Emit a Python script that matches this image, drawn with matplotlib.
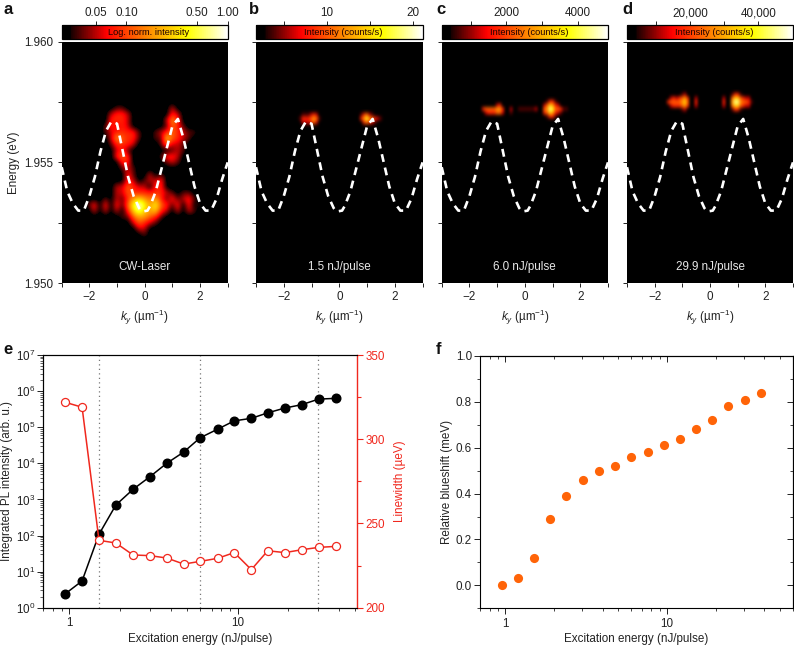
import numpy as np
import matplotlib
matplotlib.use("Agg")
import matplotlib.pyplot as plt
from matplotlib.colors import LinearSegmentedColormap, LogNorm, Normalize
from matplotlib.cm import ScalarMappable
from matplotlib.ticker import NullFormatter, LogLocator

plt.rcParams.update({
    "font.family": ["Liberation Sans", "DejaVu Sans"],
    "font.size": 8.4,
    "mathtext.fontset": "custom",
    "mathtext.rm": "Liberation Sans",
    "mathtext.it": "Liberation Sans:italic",
    "axes.linewidth": 0.8,
    "text.color": "#222222",
    "axes.labelcolor": "#222222",
    "xtick.color": "#222222",
    "ytick.color": "#222222",
})

W, H = 794, 646

# ---- dispersion curve (dashed) ----
disp_k = [-3.0, -2.8, -2.6, -2.4, -2.2, -2.0, -1.8, -1.6, -1.4, -1.2, -1.0, -0.8, -0.6, -0.4, -0.2, -0.1,
          0.1, 0.2, 0.4, 0.6, 0.8, 1.0, 1.2, 1.4, 1.6, 1.8, 2.0, 2.2, 2.4, 2.6, 2.8, 3.0]
disp_e = [1.9548, 1.9538, 1.9533, 1.9530, 1.9530, 1.9536, 1.9544, 1.95545, 1.9563, 1.9567, 1.9566, 1.9555,
          1.9544, 1.9536, 1.9531, 1.95296, 1.9530, 1.9532, 1.9538, 1.9547, 1.9556, 1.9565, 1.9568, 1.9560,
          1.9550, 1.9540, 1.9533, 1.9530, 1.9530, 1.9535, 1.9543, 1.9550]

# ---- PL maps: colour levels (0-9), {energy: {k: level}} ----
map_a = {
    1.95725: {-1.0: 1, -0.8: 1, 1.0: 2},
    1.95700: {-1.2: 2, -1.0: 3, -0.8: 3, -0.6: 2, 1.0: 3, 1.2: 2},
    1.95675: {-1.2: 3, -1.0: 3, -0.8: 3, -0.6: 2, 0.8: 2, 1.0: 5, 1.2: 3},
    1.95650: {-1.4: 1, -1.2: 3, -1.0: 2, -0.8: 3, -0.6: 2, 0.8: 1, 1.0: 4, 1.2: 3, 1.4: 1},
    1.95625: {-1.4: 1, -1.2: 2, -1.0: 3, -0.8: 3, -0.6: 3, -0.4: 3, -0.2: 1, 0.4: 1, 0.6: 2, 0.8: 3, 1.0: 4, 1.2: 3,
              1.4: 2, 1.6: 1, 1.8: 1},
    1.95600: {-1.2: 2, -1.0: 5, -0.8: 4, -0.6: 3, -0.4: 3, -0.2: 1, 0.4: 1, 0.6: 1, 0.8: 6, 1.0: 4, 1.2: 3, 1.4: 2, 1.6: 1},
    1.95575: {-1.2: 1, -1.0: 3, -0.8: 3, -0.6: 3, -0.4: 2, 0.6: 1, 0.8: 4, 1.0: 2, 1.2: 2, 1.4: 1},
    1.95550: {-1.0: 2, -0.8: 3, -0.6: 1, 1.0: 1, 1.2: 2, 1.4: 1},
    1.95525: {-1.0: 3, -0.8: 4, -0.6: 3, 0.6: 1, 0.8: 3, 1.0: 3, 1.2: 2},
    1.95500: {-0.8: 3, -0.6: 3, 0.8: 1, 1.0: 2, 1.2: 1},
    1.95475: {-0.8: 1, -0.6: 2, -0.4: 1},
    1.95450: {-0.6: 3, -0.4: 1, 0.2: 2, 0.6: 1},
    1.95425: {-0.6: 3, -0.4: 2, 0.0: 1, 0.2: 2, 0.4: 2, 0.6: 3},
    1.95400: {-1.0: 2, -0.8: 2, -0.6: 4, -0.4: 3, -0.2: 2, 0.0: 2, 0.4: 3, 0.6: 3},
    1.95375: {-1.0: 2, -0.8: 2, -0.6: 4, -0.4: 3, -0.2: 3, 0.0: 3, 0.2: 3, 0.4: 3, 0.6: 3, 0.8: 2, 1.0: 1, 1.4: 1, 1.6: 1},
    1.95350: {-1.4: 1, -1.0: 2, -0.8: 1, -0.6: 3, -0.4: 5, -0.2: 6, 0.0: 5, 0.2: 4, 0.4: 5, 0.6: 3, 0.8: 1,
              1.0: 3, 1.2: 1, 1.4: 2, 1.6: 3, 1.8: 1},
    1.95325: {-2.0: 1, -1.8: 3, -1.4: 3, -1.0: 3, -0.8: 1, -0.6: 4, -0.4: 7, -0.2: 9, 0.0: 7, 0.2: 5, 0.4: 7,
              0.6: 4, 0.8: 3, 1.0: 1, 1.2: 3, 1.6: 3, 2.0: 1},
    1.95300: {-1.8: 2, -1.4: 2, -1.0: 2, -0.6: 3, -0.4: 6, -0.2: 8, 0.0: 6, 0.2: 5, 0.4: 6, 0.6: 3,
              0.8: 2, 1.2: 2, 1.6: 2, 1.8: 1},
    1.95275: {-0.8: 1, -0.6: 1, -0.4: 4, -0.2: 5, 0.0: 5, 0.2: 4, 0.4: 3, 0.6: 1},
    1.95250: {-0.4: 2, -0.2: 4, 0.0: 3, 0.2: 2, 0.4: 1},
    1.95225: {-0.2: 2, 0.0: 2},
    1.95200: {0.0: 1},
}
map_b = {
    1.95695: {-1.3: 1, -1.2: 1, -1.1: 1, -1.0: 2, -0.9: 3, -0.8: 2, 0.8: 1, 0.9: 3, 1.0: 4, 1.1: 2, 1.2: 1},
    1.95680: {-1.4: 1, -1.3: 3, -1.2: 3, -1.1: 3, -1.0: 4, -0.9: 5, -0.8: 4, -0.7: 1,
              0.8: 3, 0.9: 5, 1.0: 7, 1.1: 5, 1.2: 4, 1.3: 3, 1.4: 2, 1.5: 1},
    1.95665: {-1.3: 2, -1.2: 2, -1.1: 2, -1.0: 3, -0.9: 4, -0.8: 2, 0.9: 3, 1.0: 4, 1.1: 3, 1.2: 2, 1.3: 1},
}
map_c = {
    1.95750: {0.8: 1, 0.9: 3, 1.0: 3, 1.1: 1},
    1.95735: {-1.0: 2, -0.9: 3, 0.7: 2, 0.8: 4, 0.9: 6, 1.0: 5, 1.1: 3, 1.2: 2},
    1.95720: {-1.5: 3, -1.4: 4, -1.3: 4, -1.2: 4, -1.1: 4, -1.0: 5, -0.9: 5, -0.8: 3, -0.5: 2, -0.2: 1, -0.1: 1, 0.0: 1,
              0.1: 1, 0.2: 1, 0.3: 1, 0.4: 2, 0.7: 4, 0.8: 5, 0.9: 8, 1.0: 7, 1.1: 4, 1.2: 4, 1.3: 3, 1.4: 1, 1.5: 1},
    1.95705: {-1.4: 2, -1.3: 3, -1.2: 3, -1.1: 3, -1.0: 4, -0.9: 4, -0.8: 2, -0.5: 1, 0.7: 3, 0.8: 4, 0.9: 6, 1.0: 5,
              1.1: 3, 1.2: 2, 1.3: 1},
    1.95690: {0.8: 1, 0.9: 3, 1.0: 3, 1.1: 1},
}
map_d = {
    1.95780: {-0.9: 2, -1.0: 1, 0.8: 1, 0.9: 3, 1.0: 3, 1.1: 1},
    1.95765: {-1.4: 2, -1.3: 3, -1.2: 2, -1.1: 3, -1.0: 4, -0.9: 5, -0.8: 3, -0.5: 2, 0.5: 2, 0.8: 4, 0.9: 6, 1.0: 6,
              1.1: 4, 1.2: 3, 1.3: 2, 1.4: 2},
    1.95750: {-1.5: 3, -1.4: 4, -1.3: 4, -1.2: 4, -1.1: 4, -1.0: 5, -0.9: 6, -0.8: 4, -0.5: 3, 0.5: 3, 0.8: 5, 0.9: 8,
              1.0: 8, 1.1: 5, 1.2: 4, 1.3: 4, 1.4: 3, 1.5: 1},
    1.95735: {-1.4: 2, -1.3: 3, -1.2: 3, -1.1: 3, -1.0: 4, -0.9: 5, -0.8: 3, -0.5: 2, 0.5: 2, 0.8: 4, 0.9: 6, 1.0: 6,
              1.1: 4, 1.2: 3, 1.3: 2, 1.4: 2},
    1.95720: {-0.9: 2, -1.0: 1, 0.8: 1, 0.9: 3, 1.0: 3, 1.1: 1},
}
panel_letters = ["a", "b", "c", "d"]
letter_x = [3, 249, 436, 622]
panel_notes = ["CW-Laser", "1.5 nJ/pulse", "6.0 nJ/pulse", "29.9 nJ/pulse"]
bar_labels = ["Log. norm. intensity", "Intensity (counts/s)", "Intensity (counts/s)", "Intensity (counts/s)"]
bar_limits = [(0.023, 1.0), (1.78, 21.1), (194, 4833), (1579, 50100)]
bar_ticks = [[0.05, 0.10, 0.50, 1.00], [5, 10, 15, 20], [1000, 2000, 3000, 4000], [10000, 20000, 30000, 40000]]
bar_ticklabels = [["0.05", "0.10", "0.50", "1.00"], ["", "10", "", "20"], ["", "2000", "", "4000"],
                  ["", "20,000", "", "40,000"]]

# ---- power series ----
energy = [0.947, 1.19, 1.50, 1.89, 2.39, 3.01, 3.79, 4.78, 5.99, 7.6, 9.55, 12.06, 15.1, 19.1, 24.0, 30.3, 38.4]
pl_intensity = [2.44, 5.5, 108, 700, 1900, 4250, 1.0e4, 2.05e4, 5.1e4, 8.8e4, 1.5e5, 1.76e5, 2.5e5, 3.4e5, 4.2e5, 6.0e5, 6.3e5]
linewidth = [321.9, 319, 240, 238.4, 231.3, 230.9, 229.5, 225.9, 227.5, 229.3, 232.7, 222.6, 233.8, 232.7, 234.4, 235.8, 236.4]
blueshift = [0.0, 0.03, 0.12, 0.29, 0.39, 0.46, 0.50, 0.52, 0.56, 0.58, 0.61, 0.64, 0.68, 0.72, 0.78, 0.81, 0.84]
marker_energies = [1.5, 6.0, 30.0]

cmap = LinearSegmentedColormap.from_list("pl", [
    (0.0, "#000000"), (0.05, "#000000"), (0.06, "#1c0000"), (0.27, "#ff0000"),
    (0.50, "#ff8000"), (0.76, "#ffff00"), (1.0, "#ffffff")])

fig = plt.figure(figsize=(W / 100, H / 100), dpi=100)


def axes_px(x0, y0, x1, y1):
    return fig.add_axes([x0 / W, 1 - y1 / H, (x1 - x0) / W, (y1 - y0) / H])


def to_grid(levels, dk, de):
    ks = np.round(np.arange(-3.0, 3.0 + dk / 2, dk), 3)
    es = sorted(levels)
    es = [es[0] - de] + es + [es[-1] + de]
    grid = np.zeros((len(es), len(ks)))
    for e, row in levels.items():
        i = es.index(e)
        for k, v in row.items():
            grid[i, int(round((k + 3.0) / dk))] = v
    return grid[:, 1:-1], es


panels_x = [(61.7, 227.7), (256, 422.6), (441.7, 608), (627, 793)]
maps = [(map_a, 0.2, 0.00025), (map_b, 0.1, 0.00015), (map_c, 0.1, 0.00015), (map_d, 0.1, 0.00015)]

for i, (x0, x1) in enumerate(panels_x):
    ax = axes_px(x0, 41.7, x1, 283)
    levels, dk, de = maps[i]
    grid, es = to_grid(levels, dk, de)
    ax.set_facecolor("black")
    ax.imshow(grid, origin="lower", aspect="auto", cmap=cmap, vmin=0, vmax=9, interpolation="bicubic",
              extent=(-3 + dk / 2, 3 - dk / 2, es[0] - de / 2, es[-1] + de / 2))
    ax.plot(disp_k, disp_e, color="white", lw=1.9, ls=(0, (3.0, 2.2)), solid_capstyle="butt")
    ax.set_xlim(-3, 3)
    ax.set_ylim(1.950, 1.960)
    ax.set_xticks([-2, 0, 2])
    ax.set_xticks([-3, -1, 1, 3], minor=True)
    ax.set_yticks([1.950, 1.955, 1.960])
    ax.set_yticks([1.9525, 1.9575], minor=True)
    ax.tick_params(which="both", direction="out", length=3, width=0.7)
    ax.tick_params(axis="both", which="major", pad=3)
    ax.set_xlabel(r"$\mathit{k}_{\mathit{y}}$ (µm$^{-1}$)", labelpad=3)
    if i == 0:
        ax.set_yticklabels(["1.950", "1.955", "1.960"])
        ax.set_ylabel("Energy (eV)", labelpad=3)
    else:
        ax.set_yticklabels([])
    for s in ax.spines.values():
        s.set_visible(False)
    ax.text(0, 1.95068, panel_notes[i], color="#e8e8e8", ha="center", va="center", fontsize=8.4)

    cax = axes_px(x0, 25, x1, 39)
    lo, hi = bar_limits[i]
    norm = LogNorm(lo, hi) if i == 0 else Normalize(lo, hi)
    cb = fig.colorbar(ScalarMappable(norm=norm, cmap=cmap), cax=cax, orientation="horizontal")
    cb.ax.xaxis.set_ticks_position("top")
    cb.set_ticks(bar_ticks[i])
    cb.set_ticklabels(bar_ticklabels[i])
    cb.ax.minorticks_off()
    cb.ax.tick_params(axis="x", which="major", direction="out", length=3, width=0.7, pad=1.2)
    cb.outline.set_linewidth(0.9)
    cax.text(0.525, 0.46, bar_labels[i], transform=cax.transAxes, ha="center", va="center",
             fontsize=6.7, color="#200000")
    fig.text(letter_x[i] / W, 1 - 9 / H, panel_letters[i], fontsize=12, fontweight="bold",
             color="#111111", va="center", ha="left")


def log_x(ax, right):
    ax.set_xscale("log")
    ax.set_xlim(0.70, right)
    ax.set_xticks([1, 10])
    ax.set_xticklabels(["1", "10"])
    ax.xaxis.set_minor_locator(LogLocator(base=10, subs=np.arange(2, 10) * 1.0))
    ax.xaxis.set_minor_formatter(NullFormatter())
    ax.set_xlabel("Excitation energy (nJ/pulse)", labelpad=2.5)
    ax.tick_params(axis="x", which="major", direction="out", length=4, width=0.7, pad=3)
    ax.tick_params(axis="x", which="minor", direction="out", length=2.2, width=0.6)


# ---- panel e ----
ax = axes_px(43.3, 355, 356.7, 607.7)
log_x(ax, 51)
for xv in marker_energies:
    ax.axvline(xv, color="#777777", ls=(0, (1, 2.6)), lw=0.9, zorder=0)
ax.plot(energy, pl_intensity, "-o", color="black", ms=6.2, lw=1.1, zorder=3)
ax.set_yscale("log")
ax.set_ylim(1, 1e7)
ax.set_yticks([10.0 ** p for p in range(8)])
ax.yaxis.set_minor_locator(LogLocator(base=10, subs=np.arange(2, 10) * 1.0, numticks=12))
ax.yaxis.set_minor_formatter(NullFormatter())
ax.tick_params(axis="y", which="major", direction="out", length=4, width=0.7, pad=2)
ax.tick_params(axis="y", which="minor", direction="out", length=2.2, width=0.5)
ax.set_ylabel("Integrated PL intensity (arb. u.)", labelpad=2)
ax.spines["right"].set_visible(False)

axr = ax.twinx()
axr.plot(energy, linewidth, "-o", color="#f0281e", mfc="white", mec="#f0281e", mew=0.9, ms=5.8, lw=1.1, zorder=4)
axr.set_ylim(200, 350)
axr.set_yticks([200, 250, 300, 350])
axr.set_yticks([225, 275, 325], minor=True)
axr.tick_params(axis="y", which="both", colors="#f0281e", direction="out", width=0.8)
axr.tick_params(axis="y", which="major", length=4.5, pad=2)
axr.tick_params(axis="y", which="minor", length=3)
axr.spines["right"].set_color("#f0281e")
axr.spines["right"].set_linewidth(1.0)
axr.set_ylabel("Linewidth (µeV)", color="#f0281e", labelpad=6)
fig.text(3 / W, 1 - 350 / H, "e", fontsize=12, fontweight="bold", color="#111111", va="center", ha="left")

# ---- panel f ----
ax = axes_px(480.3, 356, 792.7, 608.3)
log_x(ax, 60)
ax.plot(energy, blueshift, "o", color="#ff6408", ms=6.6, mew=0)
ax.set_ylim(-0.1, 1.0)
ax.set_yticks([0.0, 0.2, 0.4, 0.6, 0.8, 1.0])
ax.set_yticks([-0.1, 0.1, 0.3, 0.5, 0.7, 0.9], minor=True)
ax.tick_params(axis="y", which="major", direction="out", length=4, width=0.7, pad=2)
ax.tick_params(axis="y", which="minor", direction="out", length=2.2, width=0.6)
ax.set_ylabel("Relative blueshift (meV)", labelpad=2)
sec_r = ax.secondary_yaxis("right")
sec_r.set_yticks([0.0, 0.2, 0.4, 0.6, 0.8, 1.0])
sec_r.set_yticks([-0.1, 0.1, 0.3, 0.5, 0.7, 0.9], minor=True)
sec_r.set_yticklabels([])
sec_r.tick_params(axis="y", which="major", direction="in", length=4, width=0.7)
sec_r.tick_params(axis="y", which="minor", direction="in", length=2.2, width=0.6)
sec_t = ax.secondary_xaxis("top")
sec_t.set_xticks([1, 10])
sec_t.set_xticklabels([])
sec_t.xaxis.set_minor_locator(LogLocator(base=10, subs=np.arange(2, 10) * 1.0))
sec_t.xaxis.set_minor_formatter(NullFormatter())
sec_t.tick_params(axis="x", which="major", direction="in", length=4, width=0.7)
sec_t.tick_params(axis="x", which="minor", direction="in", length=2.2, width=0.6)
fig.text(436 / W, 1 - 350 / H, "f", fontsize=12, fontweight="bold", color="#111111", va="center", ha="left")

fig.savefig("out.png", dpi=100)
